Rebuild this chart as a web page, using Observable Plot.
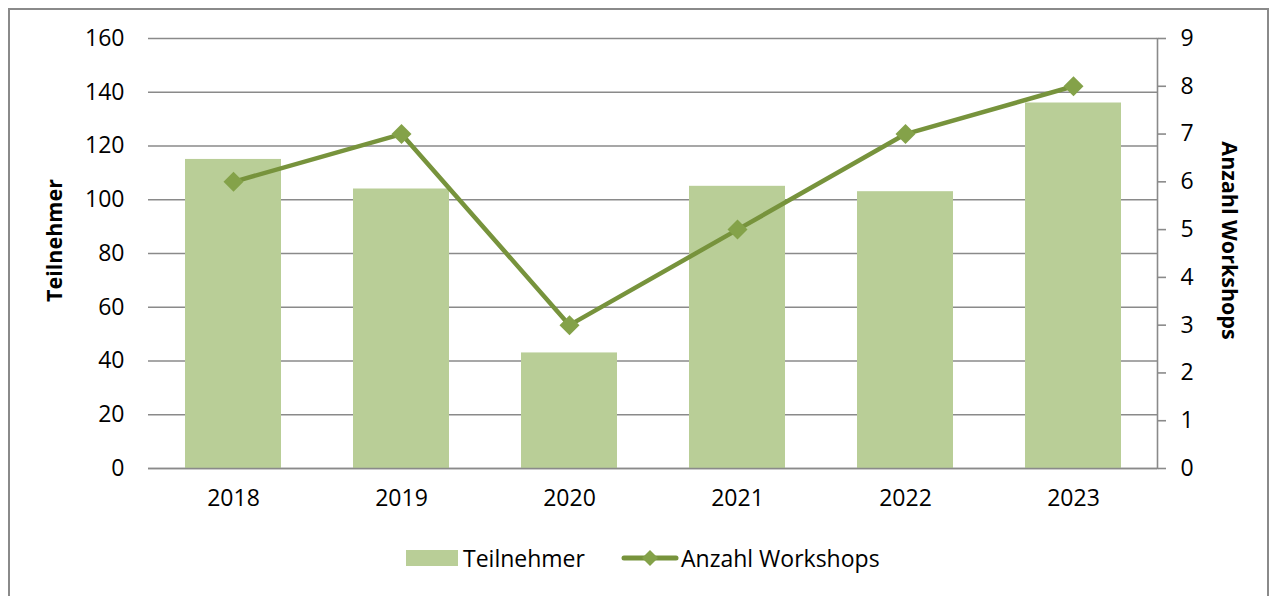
<!DOCTYPE html>
<html>
<head>
<meta charset="utf-8">
<script src="https://cdn.jsdelivr.net/npm/d3@7"></script>
<script src="https://cdn.jsdelivr.net/npm/@observablehq/plot@0.6"></script>
<style>
  html, body { margin: 0; padding: 0; background: #fff; }
  #wrap { position: relative; width: 1270px; height: 596px; overflow: hidden; font-family: "Open Sans", sans-serif; }
  #border { position: absolute; left: 8px; top: 8px; width: 1261px; height: 620px; border: 2px solid #8a8a8a; box-sizing: border-box; }
  #chart { position: absolute; left: 0; top: 0; }
  .ytitle { position: absolute; font-weight: bold; font-size: 21.5px; color: #000; white-space: nowrap; }
  #legend { position: absolute; top: 541px; left: 0; width: 1270px; height: 34px; font-size: 23px; color: #000; }
  #legend .item { position: absolute; top: 0; display: flex; align-items: center; height: 34px; }
</style>
</head>
<body>
<div id="wrap">
  <div id="border"></div>
  <div id="chart"></div>
  <div class="ytitle" id="ylt">Teilnehmer</div>
  <div class="ytitle" id="yrt">Anzahl Workshops</div>
  <div id="legend"></div>
</div>
<script>
const years = ["2018", "2019", "2020", "2021", "2022", "2023"];
const teilnehmer = [115, 104, 43, 105, 103, 136];
const workshops = [6, 7, 3, 5, 7, 8];
const leftTicks = [0, 20, 40, 60, 80, 100, 120, 140, 160];
const rightTicks = [0, 1, 2, 3, 4, 5, 6, 7, 8, 9];

const barColor = "#B9CE97";
const lineColor = "#77933C";
const markerColor = "#84A249";
const gridColor = "#8a8a8a";

const LEFT_MAX = 160, RIGHT_MAX = 9;
const toLeft = v => v * LEFT_MAX / RIGHT_MAX;

const rows = years.map((y, i) => ({year: y, t: teilnehmer[i], w: workshops[i]}));

const plot = Plot.plot({
  width: 1270,
  height: 530,
  marginLeft: 148,
  marginRight: 113,
  marginTop: 38,
  marginBottom: 62,
  style: {fontFamily: "'Open Sans', sans-serif", fontSize: "23px", color: "#000", background: "transparent"},
  x: {domain: years, paddingInner: 0.43, paddingOuter: 0.215, align: 0.5},
  y: {domain: [0, LEFT_MAX]},
  marks: [
    Plot.gridY(leftTicks, {stroke: gridColor, strokeOpacity: 1, strokeWidth: 1.6}),
    Plot.barY(rows, {x: "year", y: "t", fill: barColor}),
    Plot.ruleY([0], {stroke: gridColor, strokeWidth: 1.6}),
    Plot.axisY({anchor: "left", ticks: leftTicks, tickSize: 0, tickPadding: 24, label: null, fontSize: 23}),
    Plot.axisY({anchor: "right", ticks: rightTicks.map(toLeft), tickFormat: d => String(Math.round(d * RIGHT_MAX / LEFT_MAX)), tickSize: 8, tickPadding: 15, stroke: gridColor, strokeWidth: 1.6, label: null, fontSize: 23}),
    Plot.frame({anchor: "right", stroke: gridColor, strokeWidth: 1.6}),
    Plot.axisX({tickSize: 0, tickPadding: 21, label: null, fontSize: 23}),
    Plot.line(rows, {x: "year", y: d => toLeft(d.w), stroke: lineColor, strokeWidth: 4.5, strokeLinejoin: "round"}),
    Plot.dot(rows, {x: "year", y: d => toLeft(d.w), symbol: "diamond2", r: 9, fill: markerColor, stroke: "none"})
  ]
});
document.getElementById("chart").appendChild(plot);

// axis titles
const ylt = document.getElementById("ylt");
const yrt = document.getElementById("yrt");
function placeTitle(el, cx, cy, rot) {
  const w = el.offsetWidth, h = el.offsetHeight;
  el.style.left = (cx - w / 2) + "px";
  el.style.top = (cy - h / 2) + "px";
  el.style.transform = `rotate(${rot}deg)`;
}
placeTitle(ylt, 53, 240, -90);
placeTitle(yrt, 1230, 240, 90);

// legend
const legend = document.getElementById("legend");
const item1 = document.createElement("div");
item1.className = "item";
item1.style.left = "406px";
item1.innerHTML = `<svg width="52" height="16" style="margin-right:5px"><rect width="52" height="16" fill="${barColor}"></rect></svg><span>Teilnehmer</span>`;
const item2 = document.createElement("div");
item2.className = "item";
item2.style.left = "621px";
item2.innerHTML = `<svg width="58" height="20" style="margin-right:2px"><line x1="3" y1="10" x2="55" y2="10" stroke="${lineColor}" stroke-width="5" stroke-linecap="round"></line><path d="M29,2 L37,10 L29,18 L21,10 Z" fill="${markerColor}"></path></svg><span>Anzahl Workshops</span>`;
legend.appendChild(item1);
legend.appendChild(item2);
</script>
</body>
</html>
